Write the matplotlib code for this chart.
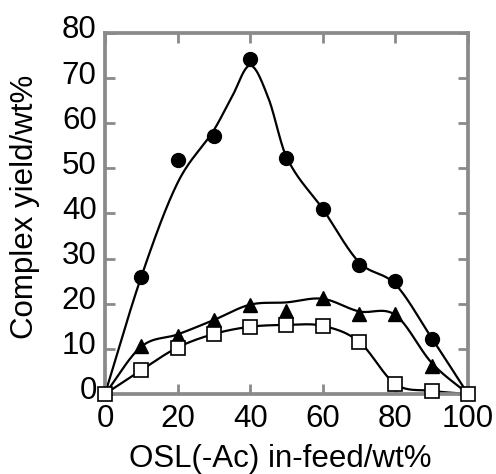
import numpy as np
import matplotlib
matplotlib.use("Agg")
import matplotlib.pyplot as plt
from matplotlib.transforms import ScaledTranslation

plt.rcParams['font.family'] = ['Liberation Sans', 'DejaVu Sans']

# data points
x_feed = [0, 10, 20, 30, 40, 50, 60, 70, 80, 90, 100]
circles = [0, 26.0, 51.9, 57.2, 74.2, 52.4, 40.9, 28.6, 25.1, 12.1, 0]
triangles = [0, 10.6, 12.8, 16.4, 19.8, 18.4, 21.2, 17.8, 17.8, 6.3, 0]
squares = [0, 5.3, 10.3, 13.3, 14.9, 15.3, 15.1, 11.6, 2.2, 0.7, 0]

# smooth guide-curve knots
circle_curve_x = [0, 10, 20, 30, 35, 40, 45, 50, 60, 70, 80, 90, 100]
circle_curve = [0, 26.0, 46.8, 58.5, 65.9, 72.8, 65.6, 52.5, 41.0, 29.2, 24.3, 12.4, 0]
triangle_curve = [0, 10.5, 13.2, 16.4, 19.8, 20.3, 21.1, 18.3, 17.5, 6.9, 0]
square_curve = [0, 5.3, 10.3, 13.3, 14.9, 15.3, 15.1, 11.6, 2.2, 0.7, 0]

xticks = [0, 20, 40, 60, 80, 100]
yticks = [0, 10, 20, 30, 40, 50, 60, 70, 80]


def catmull_rom(xs, ys, n=40):
    xs = np.asarray(xs, float)
    ys = np.asarray(ys, float)
    m = np.zeros_like(ys)
    m[1:-1] = (ys[2:] - ys[:-2]) / (xs[2:] - xs[:-2])
    m[0] = (ys[1] - ys[0]) / (xs[1] - xs[0])
    m[-1] = (ys[-1] - ys[-2]) / (xs[-1] - xs[-2])
    ox, oy = [], []
    for i in range(len(xs) - 1):
        h = xs[i + 1] - xs[i]
        t = np.linspace(0, 1, n, endpoint=False)
        h00 = 2 * t**3 - 3 * t**2 + 1
        h10 = t**3 - 2 * t**2 + t
        h01 = -2 * t**3 + 3 * t**2
        h11 = t**3 - t**2
        ox.append(xs[i] + t * h)
        oy.append(h00 * ys[i] + h10 * h * m[i] + h01 * ys[i + 1] + h11 * h * m[i + 1])
    ox.append([xs[-1]])
    oy.append([ys[-1]])
    return np.concatenate(ox), np.concatenate(oy)


fig = plt.figure(figsize=(4.96, 4.74), dpi=100)
ax = fig.add_axes([0.2117, 0.1688, 0.7318, 0.7616])

for cxk, curve in ((circle_curve_x, circle_curve), (x_feed, triangle_curve), (x_feed, square_curve)):
    cx, cy = catmull_rom(cxk, curve)
    ax.plot(cx, cy, color='black', lw=1.6, zorder=2, clip_on=False)

ax.plot(x_feed[1:-1], circles[1:-1], 'o', color='black', ms=10, zorder=3, clip_on=False)
ax.plot(x_feed[1:-1], triangles[1:-1], '^', color='black', ms=9.5, zorder=3, clip_on=False)
ax.plot(x_feed, squares, 's', mfc='white', mec='black', mew=1.2, ms=10, zorder=4, clip_on=False)

ax.set_xlim(0, 100)
ax.set_ylim(0, 80)
ax.set_xticks(xticks)
ax.set_yticks(yticks)
ax.tick_params(direction='in', length=7, width=2, color='#8a8a8a',
               top=True, right=True, labelsize=22.5)
ax.tick_params(axis='x', pad=7)
ax.tick_params(axis='y', pad=6)
for s in ax.spines.values():
    s.set_color('#8a8a8a')
    s.set_linewidth(2.7)

shift = ScaledTranslation(0, 6 / 100, fig.dpi_scale_trans)
for lab in ax.get_yticklabels():
    lab.set_transform(lab.get_transform() + shift)

ax.set_xlabel('OSL(-Ac) in-feed/wt%', fontsize=22.5)
ax.set_ylabel('Complex yield/wt%', fontsize=22.5)
ax.xaxis.set_label_coords(0.482, -0.138)
ax.yaxis.set_label_coords(-0.178, 0.518)

fig.savefig('out.png', dpi=100)
